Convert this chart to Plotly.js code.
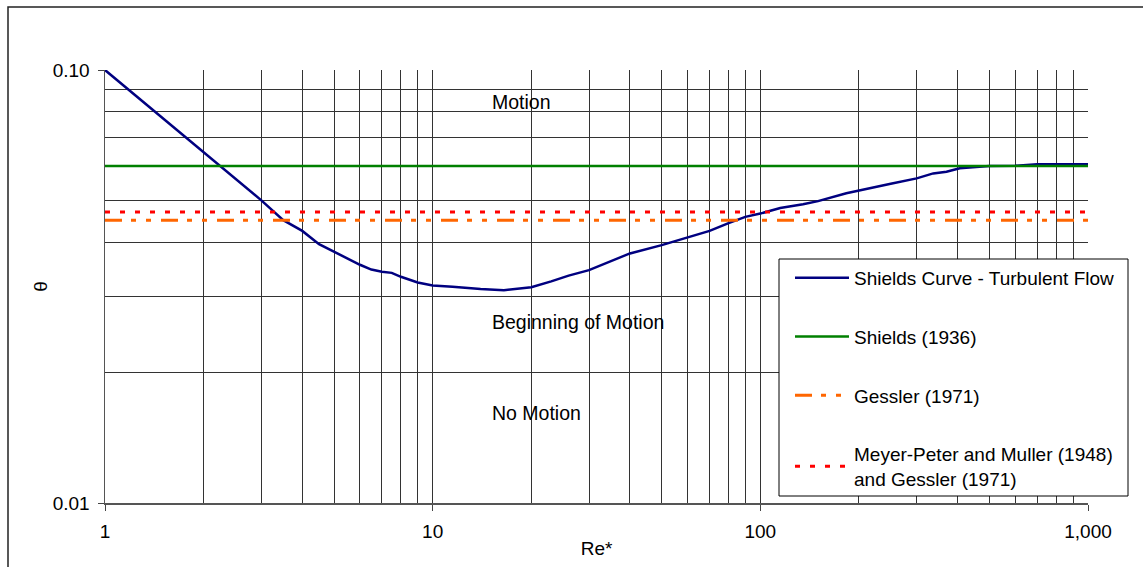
<!DOCTYPE html>
<html>
<head>
<meta charset="utf-8">
<script src="https://cdn.plot.ly/plotly-3.0.1.min.js"></script>
<style>html,body{margin:0;padding:0;background:#fff;}#chart{width:1143px;height:567px;}</style>
</head>
<body>
<div id="chart"></div>
<script>
// Shields curve (turbulent flow)
const curveRe = [1, 1.5, 2, 2.5, 3, 3.5, 4, 4.5, 5, 6, 6.5, 7, 7.5, 8, 9, 10, 11.5, 14, 16.5, 20, 23, 26, 30, 35, 40, 50, 60, 70, 80, 90, 100, 115, 135, 150, 183, 200, 250, 300, 337, 370, 406, 500, 600, 700, 1000];
const curveTheta = [0.1, 0.0775, 0.0647, 0.0561, 0.050, 0.045, 0.0425, 0.0396, 0.038, 0.0355, 0.0346, 0.0342, 0.034, 0.0333, 0.0323, 0.0318, 0.0316, 0.0312, 0.031, 0.0315, 0.0325, 0.0335, 0.0345, 0.0362, 0.0377, 0.0394, 0.041, 0.0425, 0.0443, 0.0458, 0.0466, 0.048, 0.049, 0.0498, 0.0519, 0.0527, 0.0546, 0.0562, 0.0577, 0.0582, 0.0593, 0.060, 0.0601, 0.0606, 0.0606];

// Constant thresholds
const lineRe = [1, 1000];
const shieldsTheta = [0.06, 0.06];
const gesslerTheta = [0.045, 0.045];
const mpmTheta = [0.047, 0.047];

// Tick labels
const xTickVals = [1, 10, 100, 1000];
const xTickText = ["1", "10", "100", "1,000"];
const yTickVals = [0.01, 0.1];
const yTickText = ["0.01", "0.10"];
const xMinorVals = [2,3,4,5,6,7,8,9,20,30,40,50,60,70,80,90,200,300,400,500,600,700,800,900];
const yMinorVals = [0.02,0.03,0.04,0.05,0.06,0.07,0.08,0.09];

// Region labels
const regionText = ["Motion", "Beginning of Motion", "No Motion"];
const regionRe = [15, 15, 15];
const regionTheta = [0.0844, 0.0262, 0.0161];

const FONT = "Liberation Sans, Arial, sans-serif";
const FS = 19;

const traces = [
  {x: curveRe, y: curveTheta, type: 'scatter', mode: 'lines', name: 'Shields Curve - Turbulent Flow',
   legendgroup: 'a', line: {color: '#000080', width: 2.5}},
  {x: lineRe, y: shieldsTheta, type: 'scatter', mode: 'lines', name: 'Shields (1936)',
   legendgroup: 'b', line: {color: '#008000', width: 2.5}},
  {x: lineRe, y: gesslerTheta, type: 'scatter', mode: 'lines', name: 'Gessler (1971)',
   legendgroup: 'c', line: {color: '#FF6600', width: 3, dash: '17px,9px,5px,10px,5px,10px'}},
  {x: lineRe, y: mpmTheta, type: 'scatter', mode: 'lines', name: 'Meyer-Peter and Muller (1948)<br>and Gessler (1971)',
   legendgroup: 'd', line: {color: '#FF0000', width: 3, dash: '5px,10px'}}
];

const annotations = regionText.map((t, i) => ({
  x: Math.log10(regionRe[i]), y: Math.log10(regionTheta[i]), xref: 'x', yref: 'y',
  text: t, showarrow: false, xanchor: 'left', yanchor: 'middle',
  font: {family: FONT, size: 19.5, color: '#000'}
}));

// plot area in pixels: x 105..1088, y 70..503
const px = v => (v - 105) / 983;
const py = v => (503 - v) / 433;

const layout = {
  width: 1143, height: 567,
  margin: {l: 105, r: 55, t: 70, b: 64},
  paper_bgcolor: '#fff', plot_bgcolor: '#fff',
  font: {family: FONT, size: FS, color: '#000'},
  showlegend: true,
  legend: {
    x: px(790), y: py(259), xanchor: 'left', yanchor: 'top',
    bgcolor: 'rgba(0,0,0,0)', borderwidth: 0,
    font: {family: FONT, size: FS, color: '#000'},
    traceorder: 'grouped', tracegroupgap: 31, itemwidth: 54
  },
  xaxis: {
    type: 'log', range: [0, 3],
    tickmode: 'array', tickvals: xTickVals, ticktext: xTickText,
    tickfont: {family: FONT, size: FS},
    ticks: 'outside', ticklen: 6, tickcolor: '#444', ticklabelstandoff: 5,
    showgrid: true, gridcolor: '#333', gridwidth: 1,
    minor: {tickmode: 'array', tickvals: xMinorVals, showgrid: true, gridcolor: '#333', gridwidth: 1, ticks: ''},
    showline: true, linecolor: '#555', linewidth: 1.5,
    zeroline: false,
    title: {text: 'Re*', font: {family: FONT, size: FS}, standoff: 0}
  },
  yaxis: {
    type: 'log', range: [-2, -1],
    tickmode: 'array', tickvals: yTickVals, ticktext: yTickText,
    tickfont: {family: FONT, size: FS},
    ticks: 'outside', ticklen: 6, tickcolor: '#444', ticklabelstandoff: 4,
    showgrid: true, gridcolor: '#333', gridwidth: 1,
    minor: {tickmode: 'array', tickvals: yMinorVals, showgrid: true, gridcolor: '#333', gridwidth: 1, ticks: ''},
    showline: true, linecolor: '#555', linewidth: 1.5,
    zeroline: false,
    title: {text: 'θ', font: {family: FONT, size: FS}, standoff: 0}
  },
  annotations: annotations,
  shapes: [
    {type: 'rect', xref: 'paper', yref: 'paper', x0: px(8), x1: 1.2, y0: -0.3, y1: py(7),
     line: {color: '#222', width: 1.5}, fillcolor: 'rgba(0,0,0,0)', layer: 'below'},
    {type: 'rect', xref: 'paper', yref: 'paper', x0: px(779), x1: px(1128), y0: py(496), y1: py(259),
     line: {color: '#000', width: 1}, fillcolor: '#fff', layer: 'above'}
  ]
};

Plotly.newPlot('chart', traces, layout, {displayModeBar: false, staticPlot: true});
</script>
</body>
</html>
